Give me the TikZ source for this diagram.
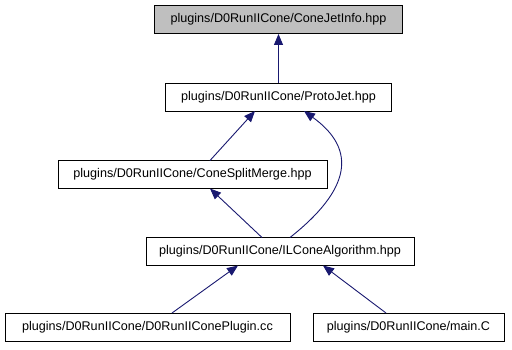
\documentclass[tikz,border=0pt]{standalone}
\usepackage{fontspec}
\setmainfont{Liberation Sans}
\usetikzlibrary{arrows.meta}
\definecolor{edgeblue}{RGB}{25,25,112}
\definecolor{boxgray}{RGB}{191,191,191}
\begin{document}
\begin{tikzpicture}[x=1pt,y=-1pt,
  filebox/.style={draw=black,line width=0.9pt,fill=white,rectangle,minimum height=28pt,inner sep=0pt,font=\fontsize{12.6}{15}\selectfont,anchor=center},
  dep/.style={draw=edgeblue,line width=0.9pt,-{Triangle[length=11pt,width=9pt]},fill=none}]
\useasboundingbox (0,0) rectangle (512,349);
\node[filebox,fill=boxgray,minimum width=248pt] (info) at (278.5,19.5) {plugins/D0RunIICone/ConeJetInfo.hpp};
\node[filebox,minimum width=226pt] (proto) at (278.5,97) {plugins/D0RunIICone/ProtoJet.hpp};
\node[filebox,minimum width=269pt] (split) at (192.5,174.5) {plugins/D0RunIICone/ConeSplitMerge.hpp};
\node[filebox,minimum width=268pt] (ilc) at (280,251.5) {plugins/D0RunIICone/ILConeAlgorithm.hpp};
\node[filebox,minimum width=285pt] (plug) at (147.5,327) {plugins/D0RunIICone/D0RunIIConePlugin.cc};
\node[filebox,minimum width=191pt] (main) at (408.5,327) {plugins/D0RunIICone/main.C};
\draw[dep] (proto.north) -- (info.south);
\draw[dep] (210,160.5) -- (255,111);
\draw[dep] (290,237.5) .. controls (350,190) and (358,150) .. (304,111);
\draw[dep] (262,237.5) -- (210,188.5);
\draw[dep] (172,313) -- (238,265.5);
\draw[dep] (386,313) -- (323,265.5);
\end{tikzpicture}
\end{document}
